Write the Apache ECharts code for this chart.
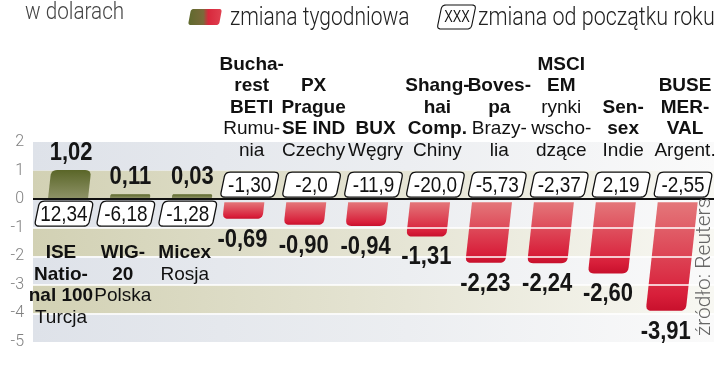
<!DOCTYPE html>
<html>
<head>
<meta charset="utf-8">
<script src="https://cdn.jsdelivr.net/npm/echarts@6/dist/echarts.min.js"></script>
<style>
html,body{margin:0;padding:0;background:#fff;}
#chart{width:720px;height:367px;}
</style>
</head>
<body>
<div id="chart"></div>
<script>
// ---- data ----
const indexNames = ['ISE\nNatio-\nnal 100','WIG-\n20','Micex','Bucha-\nrest\nBETI','PX\nPrague\nSE IND','BUX','Shang-\nhai\nComp.','Boves-\npa','MSCI\nEM','Sen-\nsex','BUSE\nMER-\nVAL'];
const countryNames = ['Turcja','Polska','Rosja','Rumu-\nnia','Czechy','Węgry','Chiny','Brazy-\nlia','rynki\nwscho-\ndzące','Indie','Argent.'];
const weeklyChange = [1.02, 0.11, 0.03, -0.69, -0.90, -0.94, -1.31, -2.23, -2.24, -2.60, -3.91];
const ytdChange = ['12,34','-6,18','-1,28','-1,30','-2,0','-11,9','-20,0','-5,73','-2,37','2,19','-2,55'];
const yMin = -5, yMax = 2, yStep = 1;
const gridLines = [-1, -2, -3, -4];

const FONT = '"Liberation Sans", Arial, sans-serif';
const LIGHT = 'Roboto, "Noto Sans", sans-serif';

function roundPoly(pts, radii) {
  const out = [];
  const n = pts.length;
  for (let i = 0; i < n; i++) {
    const P = pts[i], r = radii[i];
    if (!r) { out.push(P); continue; }
    const A = pts[(i - 1 + n) % n], B = pts[(i + 1) % n];
    const la = Math.hypot(A[0]-P[0], A[1]-P[1]), lb = Math.hypot(B[0]-P[0], B[1]-P[1]);
    const rr = Math.min(r, la / 2, lb / 2);
    const P1 = [P[0] + (A[0]-P[0]) / la * rr, P[1] + (A[1]-P[1]) / la * rr];
    const P2 = [P[0] + (B[0]-P[0]) / lb * rr, P[1] + (B[1]-P[1]) / lb * rr];
    const steps = 6;
    for (let s = 0; s <= steps; s++) {
      const t = s / steps;
      const x = (1-t)*(1-t)*P1[0] + 2*(1-t)*t*P[0] + t*t*P2[0];
      const y = (1-t)*(1-t)*P1[1] + 2*(1-t)*t*P[1] + t*t*P2[1];
      out.push([x, y]);
    }
  }
  return out;
}

const fmt2 = v => v.toFixed(2).replace('.', ',');

const chart = echarts.init(document.getElementById('chart'), null, {renderer: 'canvas'});

const redGrad = new echarts.graphic.LinearGradient(0, 0, 0, 1, [
  {offset: 0, color: '#e4777a'}, {offset: 0.85, color: '#d81f3a'}, {offset: 1, color: '#c8102c'}
]);
const greenGrad = new echarts.graphic.LinearGradient(0, 0, 0, 1, [
  {offset: 0, color: '#5a6628'}, {offset: 1, color: '#8d9166'}
]);

// bar geometry from axis coords
function barGeom(api) {
  const i = api.value(0), v = api.value(1);
  const p0 = api.coord([i, 0]);
  const p1 = api.coord([i, v]);
  const cx = p0[0], y0 = p0[1];
  const W = 40, k = 0.11;
  if (v < 0) {
    const yNear = y0 + 3;
    const yFar = Math.max(p1[1], yNear + 4);
    const xo = y => cx - 5 + (y0 - y) * k;
    return {i, v, cx, y0, yNear, yFar, xo, W};
  } else {
    const yNear = y0 - 1;
    const yFar = Math.min(p1[1], yNear - 4);
    const xo = y => cx + 4 + (y0 - y) * k;
    return {i, v, cx, y0, yNear, yFar, xo, W};
  }
}

function renderBar(params, api) {
  const g = barGeom(api);
  const {xo, yNear, yFar, W} = g;
  const pts = [[xo(yNear) - W/2, yNear], [xo(yNear) + W/2, yNear], [xo(yFar) + W/2, yFar], [xo(yFar) - W/2, yFar]];
  return {type: 'polygon', shape: {points: roundPoly(pts, [0, 0, 6, 6])},
    style: {fill: g.v < 0 ? redGrad : greenGrad}};
}

function renderTop(params, api) {
  const g = barGeom(api);
  const {i, v, cx, y0} = g;
  const W = 54, H = 25, sk = 2.6;
  const yTop = v < 0 ? y0 - 27 : y0 + 2;
  const yBot = yTop + H;
  const pts = [[cx - W/2 + sk, yTop], [cx + W/2 + sk, yTop], [cx + W/2 - sk, yBot], [cx - W/2 - sk, yBot]];
  const children = [
    {type: 'polygon', shape: {points: roundPoly(pts, [5, 5, 5, 5])}, style: {fill: '#fff', stroke: '#111', lineWidth: 1.3}},
    {type: 'text', x: cx, y: (yTop + yBot) / 2 + 1, scaleX: 0.86,
      style: {x: 0, y: 0, text: ytdChange[i], fill: '#111', font: '22px ' + FONT, align: 'center', verticalAlign: 'middle'}}
  ];
  // weekly value label
  const ly = v < 0 ? g.yFar + 21 : g.yFar - 17;
  children.push({type: 'text', x: g.xo(g.yFar), y: ly, scaleX: 0.88,
    style: {x: 0, y: 0, text: fmt2(v), fill: '#151515', font: 'bold 25px ' + FONT, align: 'center', verticalAlign: 'middle'}});
  // category label
  const bold = indexNames[i].split('\n').map(s => '{b|' + s + '}');
  const reg = countryNames[i].split('\n').map(s => '{r|' + s + '}');
  const txt = bold.concat(reg).join('\n');
  const rich = {
    b: {font: 'bold 19px ' + FONT, fill: '#111', lineHeight: 21.5},
    r: {font: '19px ' + FONT, fill: '#111', lineHeight: 21.5}
  };
  if (v < 0) {
    children.push({type: 'text', x: cx + 2, y: y0 - 38,
      style: {x: 0, y: 0, text: txt, rich, align: 'center', verticalAlign: 'bottom', font: '19px ' + FONT}});
  } else {
    children.push({type: 'text', x: cx - 3, y: y0 + 43,
      style: {x: 0, y: 0, text: txt, rich, align: 'center', verticalAlign: 'top', font: '19px ' + FONT}});
  }
  return {type: 'group', children};
}

const cats = indexNames.map((_, i) => i);
const barData = weeklyChange.map((v, i) => [i, v]);

const bandLight = {type: 'linear', x: 0, y: 0, x2: 1, y2: 0, colorStops: [
  {offset: 0, color: '#dee2e9'}, {offset: 0.55, color: '#eceef1'}, {offset: 1, color: '#fafafa'}]};
const bandOlive = {type: 'linear', x: 0, y: 0, x2: 1, y2: 0, colorStops: [
  {offset: 0, color: '#d2d1b4'}, {offset: 0.55, color: '#e6e5d5'}, {offset: 1, color: '#f8f8f3'}]};

const option = {
  animation: false,
  backgroundColor: '#fff',
  grid: {left: 33, right: 6, top: 142, bottom: 25, containLabel: false},
  xAxis: {type: 'category', data: cats, boundaryGap: true,
    axisLine: {show: false}, axisTick: {show: false}, axisLabel: {show: false}, splitLine: {show: false}},
  yAxis: {type: 'value', min: yMin, max: yMax, interval: yStep,
    axisLine: {show: false}, axisTick: {show: false}, splitLine: {show: false},
    axisLabel: {color: '#808080', fontSize: 16, fontFamily: LIGHT, fontWeight: 300, margin: 9},
    splitArea: {show: true, areaStyle: {color: [bandLight, bandOlive]}}},
  series: [
    {type: 'custom', z: 2, renderItem: renderBar, data: barData, encode: {x: 0, y: 1}},
    {type: 'line', z: 4, data: [], silent: true,
      markLine: {silent: true, symbol: 'none', label: {show: false},
        data: gridLines.map(g => ({yAxis: g, lineStyle: {color: '#ffffff', width: 1.5, type: 'solid'}}))
          .concat([{yAxis: 0, lineStyle: {color: '#111', width: 2, type: 'solid'}}])}},
    {type: 'custom', z: 6, renderItem: renderTop, data: barData, encode: {x: 0, y: 1}}
  ],
  graphic: [
    {type: 'text', z: 100, x: 25, y: 13, scaleX: 0.9, style: {text: 'w dolarach', font: '300 23px ' + LIGHT, fill: '#444', align: 'left', verticalAlign: 'middle'}},
    {type: 'polygon', z: 100, shape: {points: roundPoly([[191, 9], [222, 9], [219, 25], [188, 25]], [3, 3, 3, 3])},
      style: {fill: new echarts.graphic.LinearGradient(0, 0, 1, 0, [
        {offset: 0, color: '#5f6a2e'}, {offset: 0.45, color: '#7a6a3a'}, {offset: 0.6, color: '#d8283c'}, {offset: 1, color: '#e04050'}])}},
    {type: 'text', z: 100, x: 230, y: 19, scaleX: 0.84, style: {text: 'zmiana tygodniowa', font: '300 25px ' + LIGHT, fill: '#222', align: 'left', verticalAlign: 'middle'}},
    {type: 'polygon', z: 100, shape: {points: roundPoly([[442, 5], [476, 5], [471, 29], [437, 29]], [4, 4, 4, 4])},
      style: {fill: '#fff', stroke: '#111', lineWidth: 1.1}},
    {type: 'text', z: 101, x: 457, y: 18, scaleX: 0.8, style: {text: 'XXX', font: '16px ' + FONT, fill: '#111', align: 'center', verticalAlign: 'middle'}},
    {type: 'text', z: 100, x: 478, y: 19, scaleX: 0.86, style: {text: 'zmiana od początku roku', font: '300 25px ' + LIGHT, fill: '#222', align: 'left', verticalAlign: 'middle'}},
    {type: 'text', z: 100, right: 5, bottom: 31, rotation: Math.PI / 2,
      style: {text: 'źródło: Reuters', font: '300 21px ' + LIGHT, fill: '#666'}}
  ]
};
chart.setOption(option);
</script>
</body>
</html>
